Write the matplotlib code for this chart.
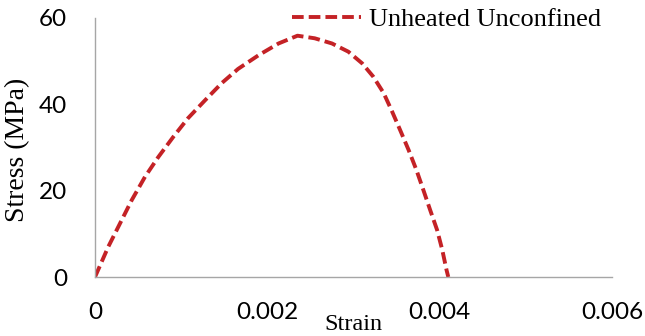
import matplotlib
matplotlib.use("Agg")
import matplotlib.pyplot as plt

strain = [0, 0.000154, 0.00029, 0.000426, 0.00058, 0.000735, 0.00091, 0.00108,
          0.00128, 0.00147, 0.00166, 0.0019, 0.00213, 0.00235, 0.00255,
          0.00275, 0.00294, 0.0031, 0.00323, 0.00335, 0.00344, 0.00354,
          0.00364, 0.00373, 0.00381, 0.00389, 0.00397, 0.00403, 0.00408, 0.0041]
stress = [0, 7.0, 12.4, 17.8, 23.2, 27.8, 32.5, 36.8,
          41.0, 44.9, 48.2, 51.4, 54.1, 55.9, 55.3,
          54.1, 52.2, 49.5, 46.4, 42.6, 38.7, 34.1,
          29.4, 24.8, 20.2, 15.5, 10.9, 6.3, 1.6, 0]
series_label = "Unheated Unconfined"
xticks = [0, 0.002, 0.004, 0.006]
xtick_labels = ["0", "0.002", "0.004", "0.006"]
yticks = [0, 20, 40, 60]
ytick_labels = ["0", "20", "40", "60"]

fig = plt.figure(figsize=(6.45, 3.36), dpi=100)
ax = fig.add_axes([95/645, 1 - 277/336, (612 - 95)/645, (277 - 18)/336])

ax.plot(strain, stress, color="#C42226", lw=2.8, dashes=(3.0, 1.3),
        dash_capstyle="butt", solid_joinstyle="round", label=series_label)

ax.set_xlim(0, 0.006)
ax.set_ylim(0, 60)
ax.set_xticks(xticks)
ax.set_xticklabels(xtick_labels, fontfamily="Lato", fontsize=17.5)
ax.set_yticks(yticks)
ax.set_yticklabels(ytick_labels, fontfamily="Lato", fontsize=17.5)
ax.tick_params(axis="both", length=0, colors="black")
ax.tick_params(axis="x", pad=18)
ax.tick_params(axis="y", pad=20)

for s in ["top", "right"]:
    ax.spines[s].set_visible(False)
for s in ["left", "bottom"]:
    ax.spines[s].set_color("#A6A6A6")
    ax.spines[s].set_linewidth(1.0)

ax.set_xlabel("Strain", fontfamily="Liberation Serif", fontsize=17.5)
ax.xaxis.set_label_coords(0.5, -0.142)
ax.set_ylabel("Stress (MPa)", fontfamily="Liberation Serif", fontsize=20)
ax.yaxis.set_label_coords(-0.126, 0.49)

leg = ax.legend(loc="upper right", bbox_to_anchor=(0.979, 1.04), frameon=False,
                prop={"family": "Liberation Serif", "size": 19},
                handlelength=2.6, handletextpad=0.3, borderpad=0, borderaxespad=0)

fig.savefig("out.png", dpi=100)
